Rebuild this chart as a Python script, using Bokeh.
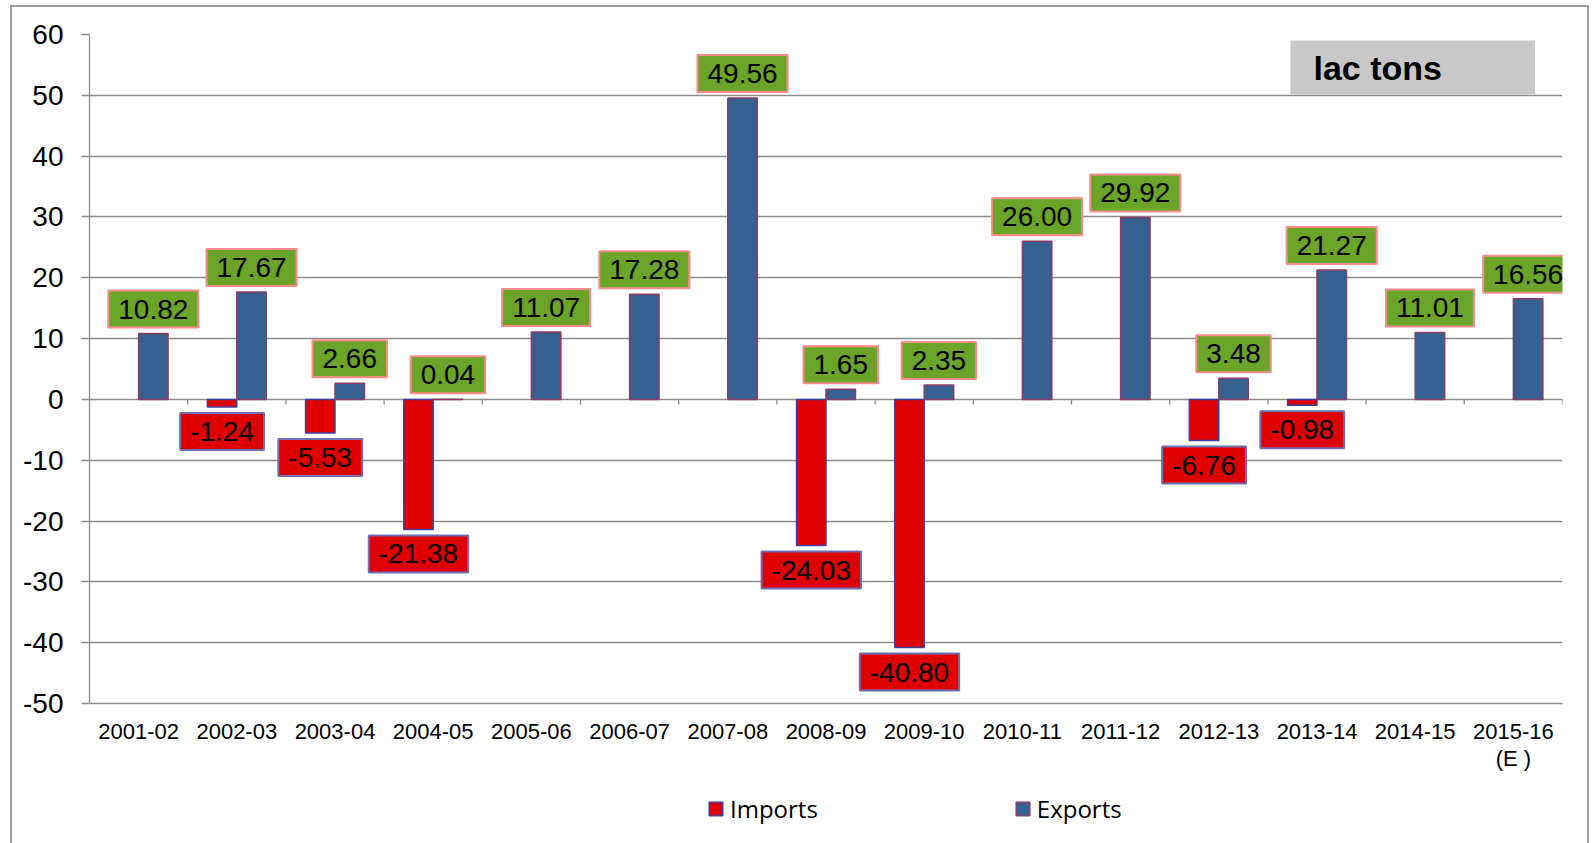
from bokeh.plotting import figure
from bokeh.layouts import column
from bokeh.models import (ColumnDataSource, FactorRange, Range1d, Label, Legend, LegendItem,
                          FixedTicker)
from bokeh.transform import dodge
from bokeh.embed import file_html
from bokeh.resources import INLINE

# ---- data ----
years = ["2001-02", "2002-03", "2003-04", "2004-05", "2005-06", "2006-07", "2007-08",
         "2008-09", "2009-10", "2010-11", "2011-12", "2012-13", "2013-14", "2014-15",
         "2015-16\n(E )"]
imports = [None, -1.24, -5.53, -21.38, None, None, None, -24.03, -40.80, None, None,
           -6.76, -0.98, None, None]
exports = [10.82, 17.67, 2.66, 0.04, 11.07, 17.28, 49.56, 1.65, 2.35, 26.00, 29.92,
           3.48, 21.27, 11.01, 16.56]
y_ticks = [-50, -40, -30, -20, -10, 0, 10, 20, 30, 40, 50, 60]
series_names = ["Imports", "Exports"]
unit_text = "lac tons"

# ---- styles ----
EXP_FILL, EXP_LINE = "#36608f", "#8e3a66"
IMP_FILL, IMP_LINE = "#de0000", "#4040a0"
EXP_LBL_FILL, EXP_LBL_LINE = "#6aa428", "#ff8a8a"
IMP_LBL_FILL, IMP_LBL_LINE = "#de0000", "#7070b0"
GRID = "#8c8c8c"
NUM_FONT = "Liberation Sans"
DODGE = 0.15
BORDER = "2px solid #a0a0a0"

p = figure(x_range=FactorRange(factors=years), y_range=Range1d(-50, 60),
           width=1575, height=778, output_backend="svg", toolbar_location=None,
           min_border_left=77, min_border_right=25, min_border_top=27, min_border_bottom=82)
p.outline_line_color = None
p.background_fill_color = "white"
p.border_fill_color = "white"

imp_years = [y for y, v in zip(years, imports) if v is not None]
imp_vals = [v for v in imports if v is not None]
src_imp = ColumnDataSource(dict(year=imp_years, val=imp_vals))
src_exp = ColumnDataSource(dict(year=years, val=exports))
src_all = ColumnDataSource(dict(year=years))

# tick marks on the zero line at category boundaries
p.segment(x0=dodge("year", 0.5, range=p.x_range), x1=dodge("year", 0.5, range=p.x_range),
          y0=0, y1=-0.85, source=src_all, line_color=GRID, line_width=1.3)

p.vbar(x=dodge("year", -DODGE, range=p.x_range), top="val", bottom=0, width=0.3,
       source=src_imp, fill_color=IMP_FILL, line_color=IMP_LINE, line_width=1.5)
p.vbar(x=dodge("year", DODGE, range=p.x_range), top="val", bottom=0, width=0.3,
       source=src_exp, fill_color=EXP_FILL, line_color=EXP_LINE, line_width=1.5)

# data labels (x in the factor range's synthetic coordinates: category i centre = i + 0.5)
pad = dict(left=10, right=10, top=9, bottom=9)
for i, v in enumerate(exports):
    p.add_layout(Label(x=i + 0.5 + DODGE, y=v, y_offset=6, text=f"{v:.2f}",
                       text_align="center", text_baseline="bottom",
                       text_font=NUM_FONT, text_font_size="28px", text_color="black",
                       background_fill_color=EXP_LBL_FILL, border_line_color=EXP_LBL_LINE,
                       border_line_width=2, padding=pad))
for i, v in enumerate(imports):
    if v is None:
        continue
    p.add_layout(Label(x=i + 0.5 - DODGE, y=v, y_offset=-6, text=f"{v:.2f}",
                       text_align="center", text_baseline="top",
                       text_font=NUM_FONT, text_font_size="28px", text_color="black",
                       background_fill_color=IMP_LBL_FILL, border_line_color=IMP_LBL_LINE,
                       border_line_width=2, padding=pad))

# axes & grid
p.xgrid.grid_line_color = None
p.ygrid.grid_line_color = GRID
p.ygrid.grid_line_width = 1.3
p.yaxis.ticker = FixedTicker(ticks=y_ticks)
p.yaxis.major_label_overrides = {t: str(t) for t in y_ticks}
p.yaxis.axis_line_color = GRID
p.yaxis.axis_line_width = 1.3
p.yaxis.major_tick_line_color = GRID
p.yaxis.major_tick_line_width = 1.3
p.yaxis.major_tick_out = 8
p.yaxis.major_tick_in = 0
p.yaxis.minor_tick_line_color = None
p.yaxis.major_label_standoff = 18
p.yaxis.major_label_text_font = NUM_FONT
p.yaxis.major_label_text_font_size = "28px"
p.yaxis.major_label_text_color = "black"

p.xaxis.axis_line_color = GRID
p.xaxis.axis_line_width = 1.3
p.xaxis.major_tick_line_color = None
p.xaxis.major_tick_out = 0
p.xaxis.major_tick_in = 0
p.xaxis.minor_tick_line_color = None
p.xaxis.major_label_standoff = 15
p.xaxis.major_label_text_font = NUM_FONT
p.xaxis.major_label_text_font_size = "22px"
p.xaxis.major_label_text_line_height = 1.1
p.xaxis.major_label_text_color = "black"
p.xaxis.major_label_orientation = "horizontal"

# unit box
p.add_layout(Label(x=1201, y=636, x_units="screen", y_units="screen", text=unit_text,
                   text_font=NUM_FONT, text_font_style="bold", text_font_size="34px",
                   text_baseline="middle", text_align="left", text_color="black",
                   background_fill_color="#c8c8c8",
                   padding=dict(left=23, right=93, top=8, bottom=8)))

# legend strip below the chart
pl = figure(width=1575, height=58, output_backend="svg", toolbar_location=None,
            x_range=Range1d(0, 1), y_range=Range1d(0, 1),
            x_axis_location=None, y_axis_location=None,
            min_border_left=0, min_border_right=0, min_border_top=0, min_border_bottom=0)
pl.grid.grid_line_color = None
pl.outline_line_color = None
nan = float("nan")
r_imp_key = pl.vbar(x=[nan], top=[nan], width=0.1, fill_color=IMP_FILL, line_color=IMP_LINE,
                    line_width=1.5)
r_exp_key = pl.vbar(x=[nan], top=[nan], width=0.1, fill_color=EXP_FILL, line_color=EXP_LINE,
                    line_width=1.5)
legend = Legend(items=[LegendItem(label=series_names[0], renderers=[r_imp_key]),
                       LegendItem(label=series_names[1], renderers=[r_exp_key])],
                location=(618, 18), orientation="horizontal",
                glyph_width=17, glyph_height=17, label_text_font="Open Sans",
                label_text_font_size="24px", label_text_color="black",
                label_standoff=6, spacing=196,
                padding=0, margin=0, border_line_color=None, background_fill_alpha=0)
pl.add_layout(legend, "center")

layout = column(p, pl, spacing=0)
layout.margin = (5, 0, 0, 10)
layout.styles = {"border-left": BORDER, "border-top": BORDER, "border-right": BORDER}

open("out.html", "w").write(file_html(layout, INLINE))
